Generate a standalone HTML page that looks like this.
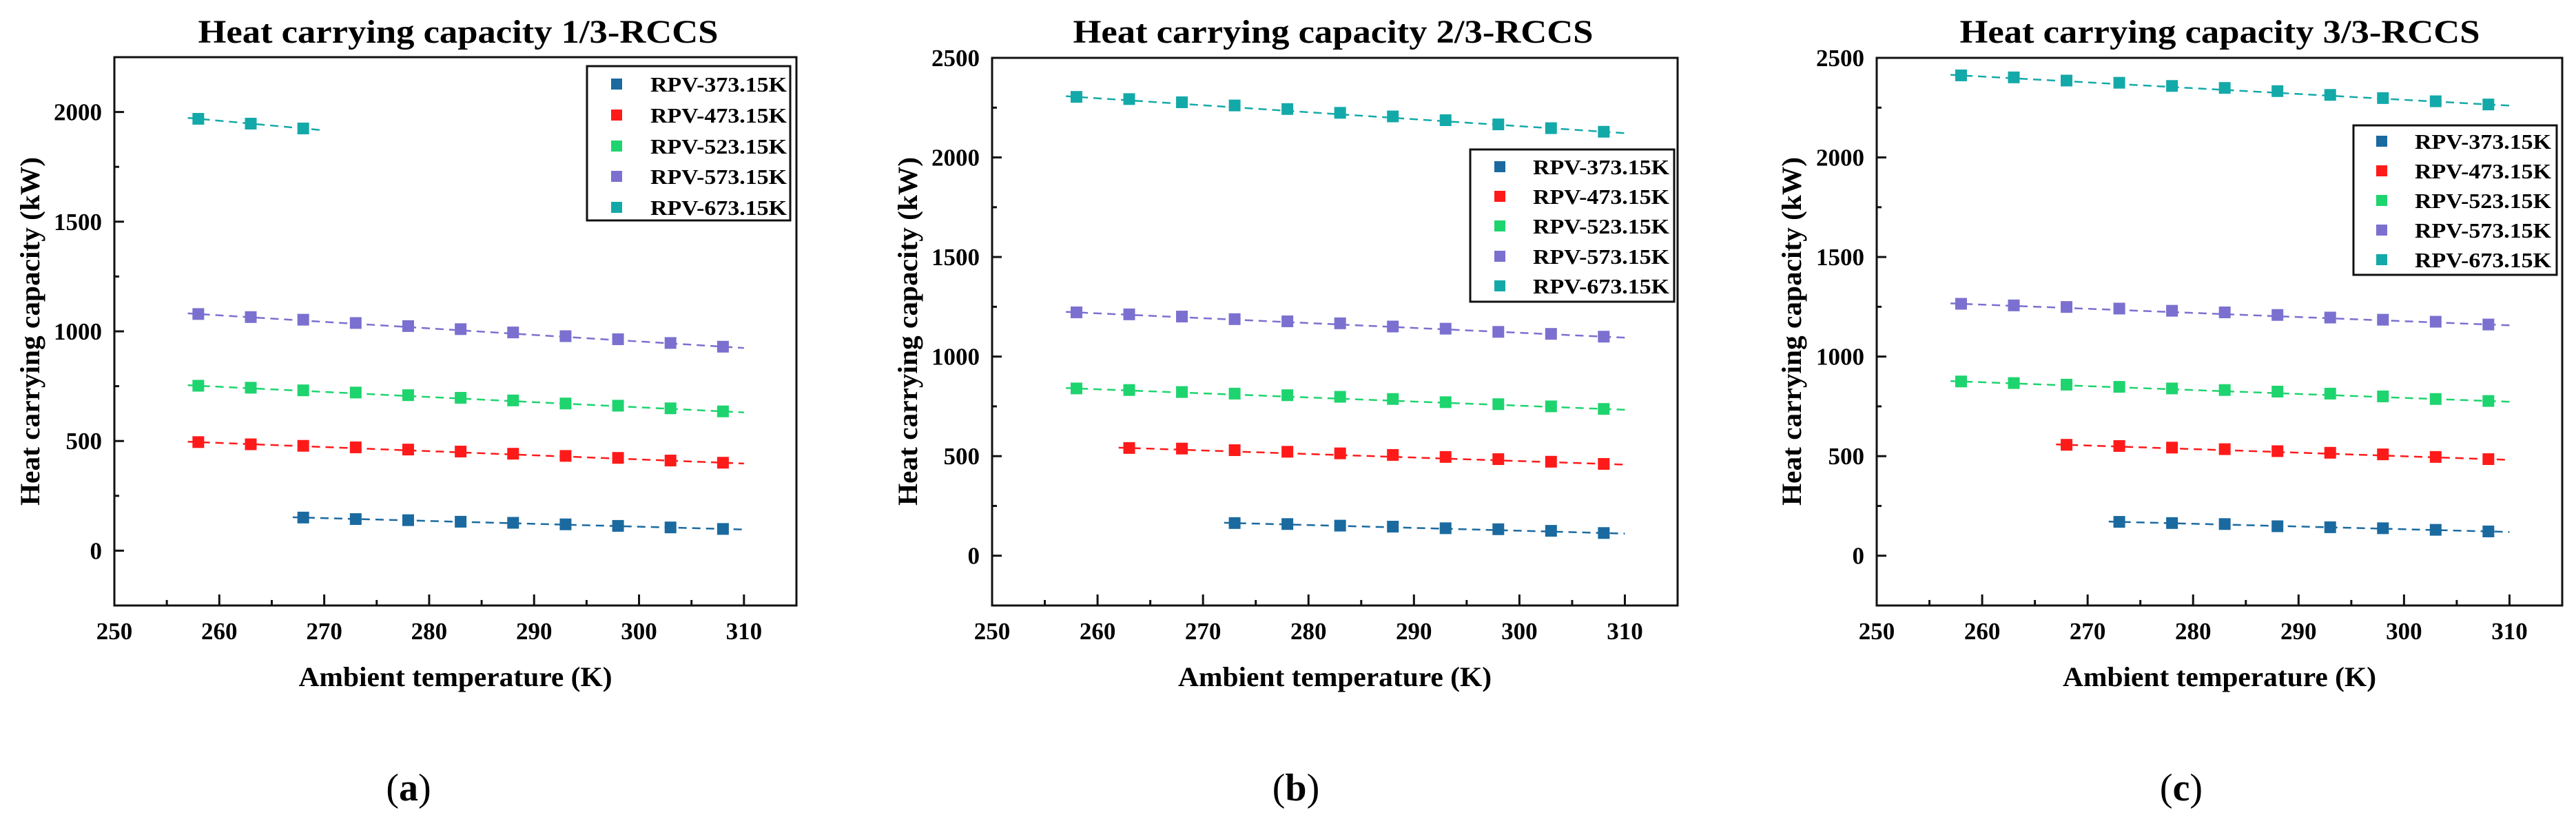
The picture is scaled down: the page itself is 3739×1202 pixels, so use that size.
<!DOCTYPE html>
<html><head><meta charset="utf-8"><style>
html,body{margin:0;padding:0;background:#fff;}
svg{display:block;font-family:"Liberation Serif",serif;}
</style></head><body>
<svg id="chart" width="3739" height="1202" viewBox="0 0 3739 1202" xmlns="http://www.w3.org/2000/svg"></svg>
<script>
const xTemps = [258,263,268,273,278,283,288,293,298,303,308];
const seriesNames = ["RPV-373.15K","RPV-473.15K","RPV-523.15K","RPV-573.15K","RPV-673.15K"];
const xTickLabels = [250,260,270,280,290,300,310];
const yTickLabelsA = [0,500,1000,1500,2000];
const yTickLabelsBC = [0,500,1000,1500,2000,2500];
// Panel a values (null = no point)
const a373 = [null,null,151,144,139,132,127,120,113,106,99];
const a473 = [495,485,478,471,461,452,442,432,423,411,401];
const a523 = [752,743,731,721,709,697,685,671,661,649,635];
const a573 = [1079,1065,1053,1038,1024,1010,995,978,964,947,930];
const a673 = [1969,1947,1925,null,null,null,null,null,null,null,null];
// Panel b
const b373 = [null,null,null,164,159,151,146,138,133,125,114];
const b473 = [null,541,538,530,522,514,506,496,485,472,461];
const b523 = [840,832,822,814,806,798,787,771,761,750,737];
const b573 = [1222,1212,1201,1188,1177,1167,1151,1140,1124,1114,1100];
const b673 = [2304,2293,2277,2261,2243,2224,2206,2187,2166,2147,2129];
// Panel c
const c373 = [null,null,null,170,164,159,148,143,138,130,122];
const c473 = [null,null,557,551,543,535,525,517,509,496,485];
const c523 = [875,867,859,848,840,832,824,814,800,787,777];
const c573 = [1265,1257,1249,1241,1230,1222,1209,1196,1185,1175,1161];
const c673 = [2412,2402,2386,2375,2359,2349,2333,2314,2298,2282,2266];

const colors = ["#1a6aa0","#ff1a1a","#1ed46e","#7b70d0","#14a9a9"];
const NS = "http://www.w3.org/2000/svg";
const svg = document.getElementById("chart");
function mk(tag, attrs, parent){const e=document.createElementNS(NS,tag);for(const k in attrs)e.setAttribute(k,attrs[k]);(parent||svg).appendChild(e);return e;}

const panels = [
 {id:"a", series:[a373,a473,a523,a573,a673], yTicks:yTickLabelsA, x0:166, x1:1156, yTop:83, yBot:879, yMin:-250, yMax:2250,
  title:"Heat carrying capacity 1/3-RCCS", titleX:665, ylabX:44, legend:{x:852,y:96,w:295,h:224,ys:[122,167,212,256,301],mx:895,tx:944}, lineEnd:[310,310,310,310,270], cap:"a", capX:593},
 {id:"b", series:[b373,b473,b523,b573,b673], yTicks:yTickLabelsBC, x0:1440, x1:2435, yTop:84, yBot:879, yMin:-250, yMax:2500,
  title:"Heat carrying capacity 2/3-RCCS", titleX:1935, ylabX:1318, legend:{x:2134,y:217,w:296,h:221,ys:[242,285,328,372,415],mx:2177,tx:2225}, lineEnd:[310,310,310,310,310], cap:"b", capX:1881},
 {id:"c", series:[c373,c473,c523,c573,c673], yTicks:yTickLabelsBC, x0:2724, x1:3719, yTop:84, yBot:879, yMin:-250, yMax:2500,
  title:"Heat carrying capacity 3/3-RCCS", titleX:3222, ylabX:2601, legend:{x:3416,y:182,w:295,h:217,ys:[205,248,291,334,377],mx:3457,tx:3505}, lineEnd:[310,310,310,310,310], cap:"c", capX:3166}
];

panels.forEach(p=>{
  const g = mk("g",{});
  
  
  const xs = v => p.x0 + (v-250)/(315-250)*(p.x1-p.x0);
  const ys = v => p.yBot - (v-p.yMin)/(p.yMax-p.yMin)*(p.yBot-p.yTop);
  // title
  const t = mk("text",{x:p.titleX,y:62,"text-anchor":"middle","font-size":"48","font-weight":"bold",textLength:"755",lengthAdjust:"spacingAndGlyphs"},g);
  t.textContent=p.title;
  
  
  // series lines and markers
  p.series.forEach((vals,si)=>{
    const pts=[];vals.forEach((v,i)=>{if(v!==null)pts.push([xTemps[i],v]);});
    const f=pts[0], l=pts[pts.length-1];
    const slope=(l[1]-f[1])/(l[0]-f[0]);
    const xa=f[0]-1, xb=p.lineEnd[si];
    const ln = mk("line",{x1:xs(xa),y1:ys(f[1]+slope*(xa-f[0])),x2:xs(xb),y2:ys(f[1]+slope*(xb-f[0])),stroke:colors[si],"stroke-width":"2.5","stroke-dasharray":"12 8"},g);
    
    
    pts.forEach(pt=>{
      const r = mk("rect",{x:xs(pt[0])-8.5,y:ys(pt[1])-8.5,width:17,height:17,fill:colors[si]},g);
      
      
    });
  });
  // frame
  const fr = mk("rect",{x:p.x0,y:p.yTop,width:p.x1-p.x0,height:p.yBot-p.yTop,fill:"none",stroke:"#111","stroke-width":"3"},g);
  
  
  // x ticks
  for(let v=250; v<=315; v+=5){
    const major = v%10===0;
    mk("line",{x1:xs(v),x2:xs(v),y1:p.yBot,y2:p.yBot-(major?16:8),stroke:"#111","stroke-width":"3"},g);
  }
  xTickLabels.forEach(v=>{
    const tx = mk("text",{x:xs(v),y:928,"text-anchor":"middle","font-size":"35","font-weight":"bold"},g);
    tx.textContent=v;
    
    
  });
  // y ticks
  for(let v=-250; v<=p.yMax; v+=250){
    if(v<=p.yMin||v>=p.yMax) continue;
    const major = v%500===0;
    mk("line",{x1:p.x0,x2:p.x0+(major?14:7),y1:ys(v),y2:ys(v),stroke:"#111","stroke-width":"3"},g);
  }
  p.yTicks.forEach(v=>{
    const ty = mk("text",{x:p.x0-18,y:ys(v)+12,"text-anchor":"end","font-size":"35","font-weight":"bold"},g);
    ty.textContent=v;
    
    
  });
  // axis titles
  const xt = mk("text",{x:(xs(250)+xs(315))/2+ (p.id==="a"?0:0),y:996,"text-anchor":"middle","font-size":"40","font-weight":"bold",textLength:"455",lengthAdjust:"spacingAndGlyphs"},g);
  xt.textContent="Ambient temperature (K)";
  
  
  const yt = mk("text",{x:0,y:0,"text-anchor":"middle","font-size":"40","font-weight":"bold",textLength:"506",lengthAdjust:"spacingAndGlyphs",transform:`translate(${p.ylabX+13},481) rotate(-90)`},g);
  yt.textContent="Heat carrying capacity (kW)";
  
  
  // legend
  const L=p.legend;
  const lb = mk("rect",{x:L.x,y:L.y,width:L.w,height:L.h,fill:"#fff",stroke:"#111","stroke-width":"3"},g);
  
  
  seriesNames.forEach((n,i)=>{
    const m = mk("rect",{x:L.mx-8,y:L.ys[i]-8,width:16,height:16,fill:colors[i]},g);
    
    
    const lt = mk("text",{x:L.tx,y:L.ys[i]+11,"font-size":"31","font-weight":"bold",textLength:"198",lengthAdjust:"spacingAndGlyphs"},g);
    lt.textContent=n;
    
    
  });
  // caption
  const cp = mk("text",{x:p.capX,y:1162,"text-anchor":"middle","font-size":"56"},g);
  cp.innerHTML='(<tspan font-weight="bold">'+p.cap+'</tspan>)';
  
  
});
</script>
</body></html>
